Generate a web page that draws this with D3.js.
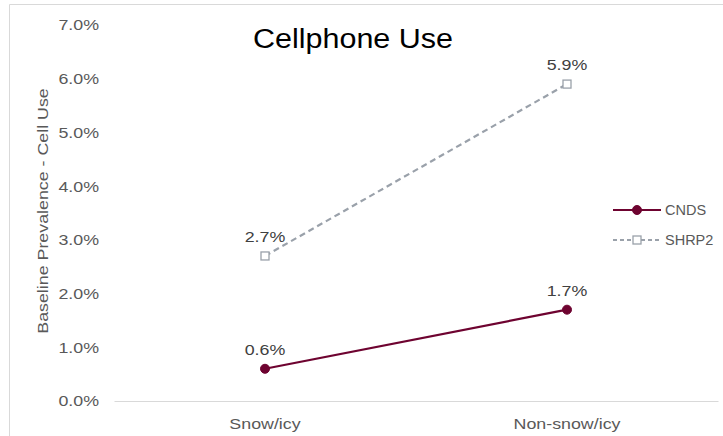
<!DOCTYPE html>
<html>
<head>
<meta charset="utf-8">
<script src="https://cdn.jsdelivr.net/npm/d3@7"></script>
<style>
  html, body { margin: 0; padding: 0; background: #fff; }
  svg { display: block; font-family: "Liberation Sans", Arial, sans-serif; }
</style>
</head>
<body>
<svg id="chart" width="723" height="436"></svg>
<script>
// Conditions on the x axis
const categories = ["Snow/icy", "Non-snow/icy"];
// Baseline cellphone-use prevalence (%) per study
const cndsValues = [0.6, 1.7];
const shrp2Values = [2.7, 5.9];
// Y axis ticks (%)
const yTicks = [0, 1, 2, 3, 4, 5, 6, 7];

const seriesNames = ["CNDS", "SHRP2"];
const series = [
  { name: seriesNames[0], values: cndsValues, color: "#6e0330", dash: null, marker: "circle" },
  { name: seriesNames[1], values: shrp2Values, color: "#9aa1aa", dash: "6,4", marker: "square" }
];

const FONT = "Liberation Sans, Arial, sans-serif";
const WIDE = "scale(1.15,1)";   // slightly expanded text

const svg = d3.select("#chart");

// Outer chart frame
svg.append("path")
  .attr("d", "M9.5,440 V4.5 H730")
  .attr("fill", "none")
  .attr("stroke", "#d9d9d9")
  .attr("stroke-width", 1);

const x = d3.scaleBand().domain(categories).range([114, 718]);
const y = d3.scaleLinear().domain([0, 7]).range([401, 25]);

// Category axis
const xAxis = svg.append("g")
  .attr("transform", `translate(0,${y(0)})`)
  .call(d3.axisBottom(x).tickSize(0).tickPadding(17));
xAxis.select(".domain").attr("stroke", "#d9d9d9");
xAxis.selectAll("text")
  .attr("font-size", 15.5)
  .attr("fill", "#595959")
  .attr("font-family", FONT)
  .attr("transform", WIDE);

// Value axis (labels only)
const yAxis = svg.append("g")
  .attr("transform", "translate(99,0)")
  .call(d3.axisLeft(y).tickValues(yTicks).tickSize(0).tickPadding(0)
    .tickFormat(d => d3.format(".1f")(d) + "%"));
yAxis.select(".domain").remove();
yAxis.selectAll("text")
  .attr("font-size", 15.5)
  .attr("fill", "#595959")
  .attr("font-family", FONT)
  .attr("transform", WIDE);

// Y axis title
svg.append("text")
  .attr("transform", `translate(48,${211}) rotate(-90) ${WIDE}`)
  .attr("text-anchor", "middle")
  .attr("font-size", 15.5)
  .attr("fill", "#595959")
  .text("Baseline Prevalence - Cell Use");

// Chart title
svg.append("text")
  .attr("transform", "translate(353,48) scale(1.13,1)")
  .attr("text-anchor", "middle")
  .attr("font-size", 27)
  .attr("fill", "#000")
  .text("Cellphone Use");

const cx = c => x(c) + x.bandwidth() / 2;
const line = d3.line().x(d => cx(d.cat)).y(d => y(d.v));

function drawMarker(g, px, py, s) {
  if (s.marker === "circle") {
    g.append("circle").attr("cx", px).attr("cy", py).attr("r", 4.5)
      .attr("fill", s.color).attr("stroke", s.color);
  } else {
    g.append("rect").attr("x", px - 4).attr("y", py - 4)
      .attr("width", 8).attr("height", 8)
      .attr("fill", "#fff").attr("stroke", s.color).attr("stroke-width", 1.3);
  }
}

series.forEach(s => {
  const pts = categories.map((c, i) => ({ cat: c, v: s.values[i] }));
  const g = svg.append("g");
  g.append("path")
    .attr("d", line(pts))
    .attr("fill", "none")
    .attr("stroke", s.color)
    .attr("stroke-width", 2.2)
    .attr("stroke-dasharray", s.dash);
  pts.forEach(p => {
    drawMarker(g, cx(p.cat), y(p.v), s);
    g.append("text")
      .attr("transform", `translate(${cx(p.cat)},${y(p.v) - 14}) ${WIDE}`)
      .attr("text-anchor", "middle")
      .attr("font-size", 15.5)
      .attr("fill", "#404040")
      .text(d3.format(".1f")(p.v) + "%");
  });
});

// Legend
const legend = svg.append("g");
series.forEach((s, i) => {
  const ly = 210 + i * 30;
  legend.append("line")
    .attr("x1", 613).attr("x2", 661)
    .attr("y1", ly).attr("y2", ly)
    .attr("stroke", s.color)
    .attr("stroke-width", 2.2)
    .attr("stroke-dasharray", s.dash ? "4,3" : null);
  drawMarker(legend, 637, ly, s);
  legend.append("text")
    .attr("x", 665).attr("y", ly + 5)
    .attr("font-size", 14.5)
    .attr("fill", "#595959")
    .text(s.name);
});
</script>
</body>
</html>
